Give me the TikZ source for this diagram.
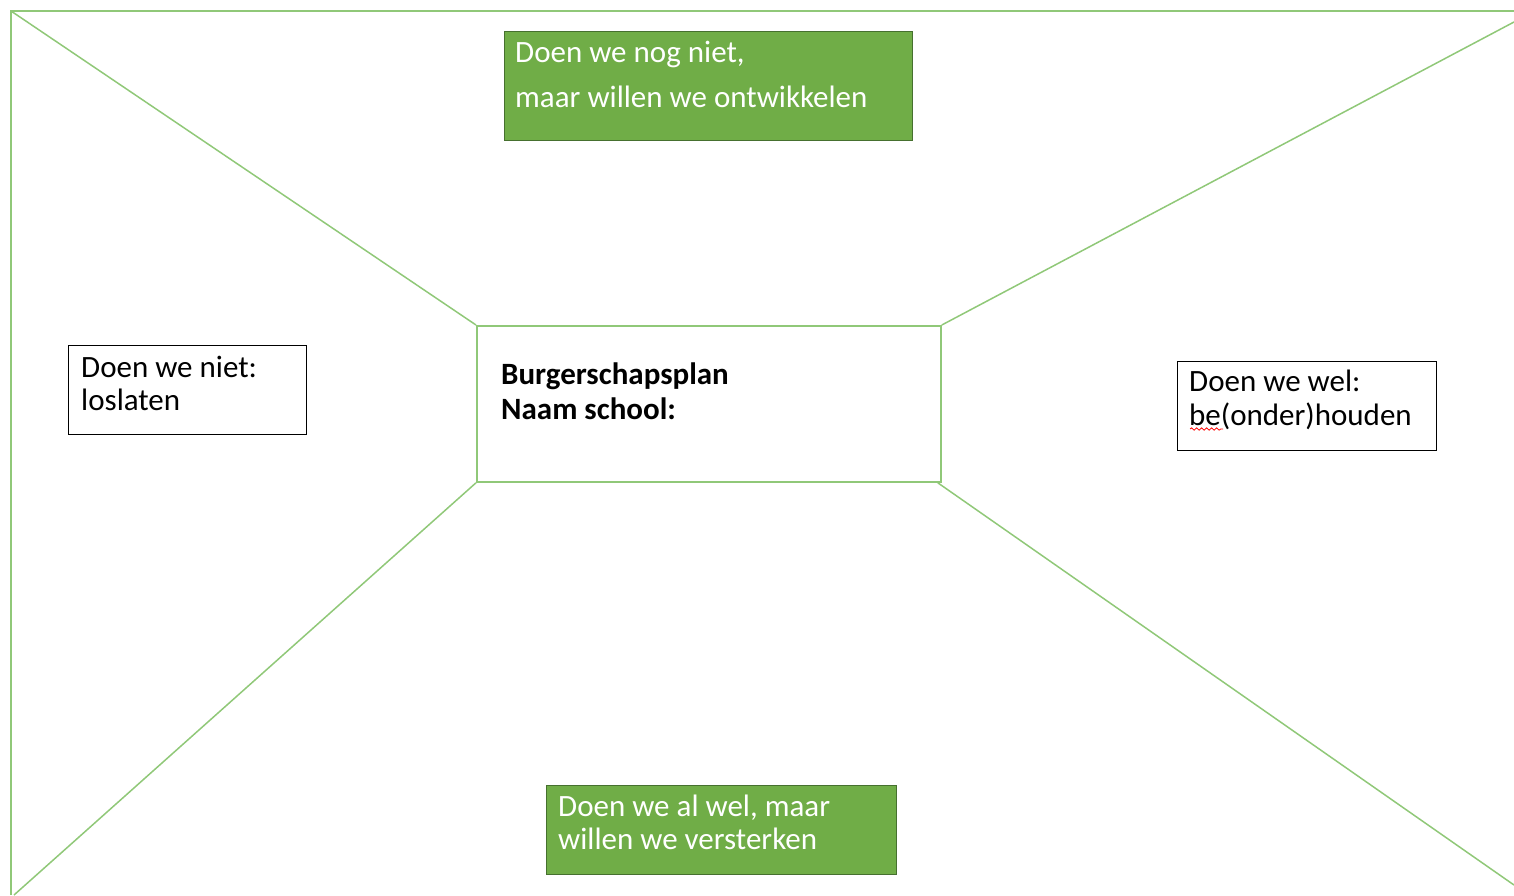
\documentclass[tikz,border=0pt]{standalone}
\usepackage{fontspec}
\setmainfont{Carlito}
\usetikzlibrary{decorations.pathmorphing}
\definecolor{lineg}{HTML}{90C878}
\definecolor{fillg}{HTML}{70AD47}
\definecolor{edgeg}{HTML}{46702F}
\tikzset{
  frameline/.style={draw=lineg, line width=1.8pt},
  diag/.style={draw=lineg, line width=1.5pt},
  greenbox/.style={draw=edgeg, fill=fillg, line width=1.2pt, anchor=north west, inner sep=0pt},
  whitebox/.style={draw=black, fill=white, line width=1.2pt, anchor=north west, inner sep=0pt},
  midbox/.style={draw=lineg, fill=white, line width=1.8pt, anchor=north west, inner sep=0pt},
  txt/.style={anchor=base west, inner sep=0pt, font=\fontsize{31}{34}\selectfont},
  wtxt/.style={txt, text=white},
  btxt/.style={txt, font=\fontsize{31}{34}\selectfont\bfseries}
}
\begin{document}
\begin{tikzpicture}[x=1pt, y=-1pt]
\useasboundingbox (0,0) rectangle (1514,895);
% frame
\coordinate (tl) at (11,11);
\coordinate (tr) at (1514,11);
\coordinate (bl) at (11,895);
\coordinate (dtr) at (1514,22);
\coordinate (dbl) at (14,895);
\coordinate (dbr) at (1514,885);
\draw[frameline] (tr) -- (tl) -- (bl);
% center box
\node[midbox, minimum width=464pt, minimum height=156pt] (mid) at (476,325) {};
\draw[diag] (tl) -- (mid.north west);
\draw[diag] (mid.north east) -- (dtr);
\draw[diag] (mid.south west) -- (dbl);
\draw[diag] ([xshift=-4pt]mid.south east) -- (dbr);
\node[btxt] (m1) at (501,384) {Burgerschapsplan};
\node[btxt] (m2) at (501,419) {Naam school:};
% top green box
\node[greenbox, minimum width=408pt, minimum height=109pt] (top) at (504,31) {};
\node[wtxt] (t1) at (515,62) {Doen we nog niet,};
\node[wtxt] (t2) at (515,107) {maar willen we ontwikkelen};
% bottom green box
\node[greenbox, minimum width=350pt, minimum height=89pt] (bot) at (546,785) {};
\node[wtxt] (b1) at (558,816) {Doen we al wel, maar};
\node[wtxt] (b2) at (558,849) {willen we versterken};
% left box
\node[whitebox, minimum width=238pt, minimum height=89pt] (lft) at (68,345) {};
\node[txt] (l1) at (81,377) {Doen we niet:};
\node[txt] (l2) at (81,410) {loslaten};
% right box
\node[whitebox, minimum width=259pt, minimum height=89pt] (rgt) at (1177,361) {};
\node[txt] (r1) at (1189,391) {Doen we wel:};
\node[txt] (r2) at (1189,425) {be(onder)houden};
\draw[red, line width=0.8pt, decorate, decoration={snake, amplitude=1.2pt, segment length=5pt}] ([xshift=1pt, yshift=-4pt]r2.base west) -- ([xshift=34pt, yshift=-4pt]r2.base west);
\end{tikzpicture}
\end{document}
